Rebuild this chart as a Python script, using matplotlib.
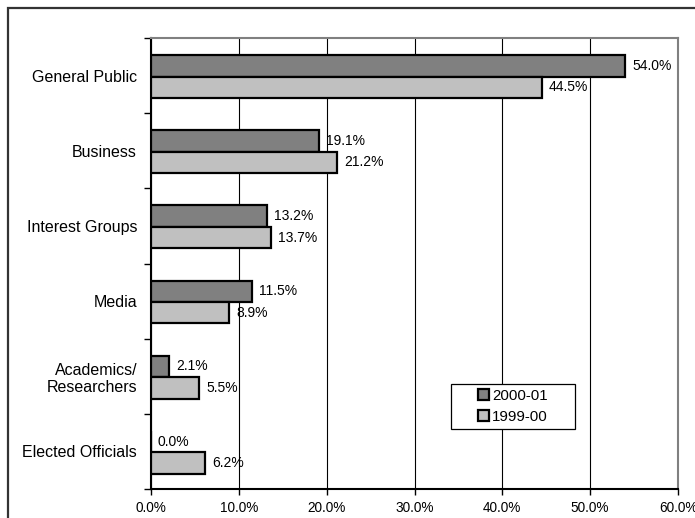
import matplotlib.pyplot as plt
from matplotlib.patches import Rectangle
from matplotlib.ticker import FuncFormatter, FixedLocator
import numpy as np

plt.rcParams['font.family'] = ['Liberation Sans', 'DejaVu Sans']

categories = ['General Public', 'Business', 'Interest Groups', 'Media',
              'Academics/\nResearchers', 'Elected Officials']
vals_2000 = [54.0, 19.1, 13.2, 11.5, 2.1, 0.0]
vals_1999 = [44.5, 21.2, 13.7, 8.9, 5.5, 6.2]
series_names = ['2000-01', '1999-00']

fig = plt.figure(figsize=(6.95, 5.18), dpi=100)
ax = fig.add_axes([151/695, 1-489/518, 527/695, 451/518])

# outer chart border (runs off the right/bottom of the image)
fig.patches.append(Rectangle((8/695, -0.05), 1.2, 1 - 8/518 + 0.05,
                             transform=fig.transFigure, fill=False,
                             edgecolor='#333333', linewidth=1.6))

y = np.arange(len(categories))
h = 0.285
b1 = ax.barh(y - 0.13, vals_2000, height=h, color='#808080', edgecolor='black',
             linewidth=1.6, label=series_names[0], zorder=3)
b2 = ax.barh(y + 0.155, vals_1999, height=h, color='#c0c0c0', edgecolor='black',
             linewidth=1.6, label=series_names[1], zorder=3)

for bars, vals in ((b1, vals_2000), (b2, vals_1999)):
    for bar, v in zip(bars, vals):
        ax.annotate(f'{v:.1f}%', (v, bar.get_y() + bar.get_height() / 2),
                    xytext=(5, 0), textcoords='offset points',
                    va='center', ha='left', fontsize=10)

ax.set_xlim(0, 60)
ax.set_ylim(len(categories) - 0.5, -0.5)
ax.set_xticks(np.arange(0, 61, 10))
ax.xaxis.set_major_formatter(FuncFormatter(lambda v, p: f'{v:.1f}%'))
ax.tick_params(axis='x', labelsize=9.8, length=4, width=1, direction='out', pad=5)

ax.set_yticks(y)
ax.set_yticklabels(categories, fontsize=11.5)
ax.yaxis.set_minor_locator(FixedLocator(np.arange(-0.5, len(categories), 1)))
ax.tick_params(axis='y', which='major', length=0, pad=10)
ax.tick_params(axis='y', which='minor', length=5, width=1, direction='out')

ax.grid(axis='x', color='black', linewidth=0.8)
ax.set_axisbelow(True)

for s in ('left', 'bottom'):
    ax.spines[s].set_color('black')
    ax.spines[s].set_linewidth(1.5)
for s in ('top', 'right'):
    ax.spines[s].set_color('#808080')
    ax.spines[s].set_linewidth(1.5)

# legend box drawn separately (wide side padding as in the original)
ax.add_patch(Rectangle((0.569, 0.133), 0.2356, 0.0998, transform=ax.transAxes,
                       facecolor='white', edgecolor='black', linewidth=0.9,
                       zorder=4))
leg = ax.legend(loc='center', bbox_to_anchor=(0.687, 0.183), fontsize=10.8,
                frameon=False, handlelength=0.75, handleheight=0.75,
                handletextpad=0.2, borderpad=0, labelspacing=0.45,
                borderaxespad=0)
leg.set_zorder(5)

fig.savefig('out.png', dpi=100)
